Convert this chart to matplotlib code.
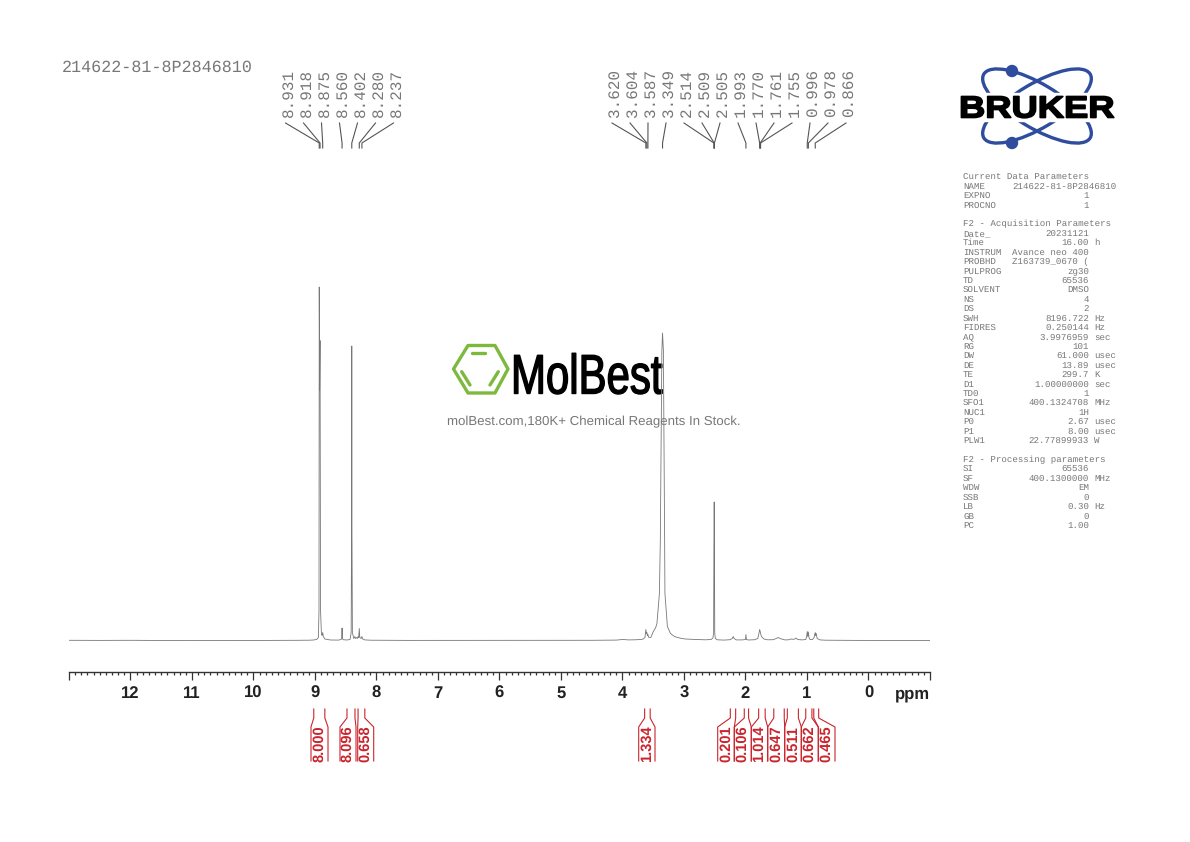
import matplotlib
matplotlib.use('Agg')
import matplotlib.pyplot as plt
from matplotlib.patches import Ellipse, Circle, Polygon, Rectangle
from matplotlib.patheffects import AbstractPathEffect
from matplotlib.transforms import Affine2D

plt.rcParams['font.family'] = ['Liberation Sans', 'DejaVu Sans']
plt.rcParams['text.hinting'] = 'none'

# spectrum: ppm / height above baseline
spec_ppm = [13.0, 12.5, 12.0, 11.5, 11.0, 10.5, 10.0, 9.6, 9.3, 9.1, 9.02, 8.97, 8.945, 8.935, 8.931, 8.925,
            8.918, 8.91, 8.895, 8.885, 8.875, 8.865, 8.84, 8.75, 8.62, 8.575, 8.565, 8.56, 8.555, 8.545, 8.48,
            8.43, 8.412, 8.405, 8.402, 8.399, 8.392, 8.37, 8.352, 8.342, 8.325, 8.31, 8.298, 8.29, 8.28,
            8.272, 8.25, 8.237, 8.225, 8.19, 8.1, 7.9, 7.5, 7.0, 6.5, 6.0, 5.5, 5.0, 4.5, 4.1, 4.0, 3.9, 3.8, 3.7,
            3.66, 3.635, 3.625, 3.62, 3.612, 3.604, 3.595, 3.587, 3.575, 3.54, 3.5, 3.46, 3.44, 3.40, 3.385,
            3.37, 3.36, 3.349, 3.335, 3.325, 3.315, 3.31, 3.29, 3.27, 3.22, 3.15, 3.05, 2.98, 2.8, 2.65, 2.56,
            2.53, 2.518, 2.514, 2.511, 2.509, 2.507, 2.505, 2.5, 2.49, 2.46, 2.35, 2.25, 2.215, 2.2, 2.185, 2.15,
            2.05, 2.0, 1.993, 1.985, 1.95, 1.85, 1.8, 1.775, 1.77, 1.761, 1.755, 1.74, 1.7, 1.64, 1.55, 1.5, 1.47,
            1.43, 1.36, 1.3, 1.26, 1.23, 1.2, 1.18, 1.15, 1.08, 1.02, 1.005, 0.996, 0.987, 0.978, 0.968, 0.95,
            0.91, 0.885, 0.875, 0.866, 0.858, 0.85, 0.835, 0.79, 0.7, 0.5, 0.2, 0.0, -0.3, -0.6, -1.0]
spec_height = [0.2, 0.1, 0.2, 0.0, 0.1, -0.1, 0.0, 0.1, 0.2, 0.3, 0.5, 1.2, 3, 30, 353.5, 250,
               300, 30, 6, 5, 8, 4, 1.5, 0.5, 0.4, 1, 3, 12.5, 3, 0.8, 0.5,
               1, 8, 120, 294.5, 110, 8, 2, 4, 2, 3, 2, 4, 3, 12,
               3, 2, 4, 1.5, 0.6, 0.3, 0.2, 0.1, 0.1, 0.0, 0.1, 0.1, 0.2, 0.2, 0.4, 1, 0.6, 0.7, 1,
               1.6, 3, 8, 11, 7, 8, 5, 6, 3.2, 3, 8.8, 13, 17, 47, 100,
               220, 290, 307.5, 290, 200, 100, 47, 30, 14, 7, 3.8, 2.2, 1.5, 1, 0.7, 1,
               2.5, 8, 90, 110, 138.5, 100, 85, 7, 2, 0.7, 0.4, 0.8, 2, 4, 2, 0.6,
               0.6, 1, 6, 1, 0.5, 0.8, 2, 9, 11, 9, 7, 4, 1.5, 0.7, 0.8, 2, 3,
               1.8, 0.6, 0.7, 1.5, 1.2, 1.4, 2.5, 1, 0.6, 1, 4, 9, 4, 8.5, 3, 1,
               1, 3, 6, 8, 5, 7, 2, 0.6, 0.3, 0.2, 0.1, 0.1, 0.0, 0.1, 0.0]

# x axis
major_ticks = [13, 12, 11, 10, 9, 8, 7, 6, 5, 4, 3, 2, 1, 0, -1]
major_labels = ['', '12', '11', '10', '9', '8', '7', '6', '5', '4', '3', '2', '1', '0', '']
minor_ticks = [v / 10 for v in range(-10, 131)]

# peak labels
peaks_left = [8.931, 8.918, 8.875, 8.560, 8.402, 8.280, 8.237]
peaks_right = [3.620, 3.604, 3.587, 3.349, 2.514, 2.509, 2.505, 1.993, 1.770, 1.761, 1.755, 0.996, 0.978, 0.866]

# integrals: label, left and right limit in ppm
int_labels = ['8.000', '8.096', '0.658', '1.334', '0.201', '0.106', '1.014', '0.647', '0.511', '0.662', '0.465']
int_from = [9.02, 8.48, 8.30, 3.64, 2.247, 2.02, 1.786, 1.54, 1.32, 1.02, 0.89]
int_to = [8.84, 8.35, 8.19, 3.55, 2.16, 1.95, 1.68, 1.37, 1.14, 0.92, 0.81]
int_foot_l = [311, 340, 357.7, 638.7, 717.7, 734.3, 751.3, 767.7, 784.7, 801.3, 818.3]
int_foot_r = [328, 356, 373.7, 655, 734.3, 751.3, 767.7, 784.7, 801.3, 818.3, 835]

# parameter block
param_names = ['Current Data Parameters', 'NAME', 'EXPNO', 'PROCNO', '',
               'F2 - Acquisition Parameters', 'Date_', 'Time', 'INSTRUM', 'PROBHD', 'PULPROG', 'TD', 'SOLVENT',
               'NS', 'DS', 'SWH', 'FIDRES', 'AQ', 'RG', 'DW', 'DE', 'TE', 'D1', 'TD0', 'SFO1', 'NUC1', 'P0', 'P1',
               'PLW1', '', 'F2 - Processing parameters', 'SI', 'SF', 'WDW', 'SSB', 'LB', 'GB', 'PC']
param_values = ['', '214622-81-8P2846810', '1', '1', '',
                '', '20231121', '16.00', 'Avance neo 400', 'Z163739_0670 (', 'zg30', '65536', 'DMSO',
                '4', '2', '8196.722', '0.250144', '3.9976959', '101', '61.000', '13.89', '299.7', '1.00000000', '1',
                '400.1324708', '1H', '2.67', '8.00', '22.77899933', '', '', '65536', '400.1300000', 'EM', '0', '0.30',
                '0', '1.00']
param_units = ['', '', '', '', '',
               '', '', 'h', '', '', '', '', '',
               '', '', 'Hz', 'Hz', 'sec', '', 'usec', 'usec', 'K', 'sec', '', 'MHz', '', 'usec', 'usec',
               'W', '', '', '', 'MHz', '', '', 'Hz', '', '']

grey = '#777777'
red = '#c9252d'
blue = '#2f4d9e'
green = '#7cb93c'


class Stretch(AbstractPathEffect):
    # squeeze or widen real text around its anchor, optional outline
    def __init__(self, sx, cx, lw=0):
        super().__init__()
        self.sx = sx
        self.cx = cx
        self.lw = lw

    def draw_path(self, renderer, gc, tpath, affine, rgbFace=None):
        tr = affine + Affine2D().translate(-self.cx, 0).scale(self.sx, 1).translate(self.cx, 0)
        gc0 = renderer.new_gc()
        gc0.copy_properties(gc)
        gc0.set_linewidth(self.lw)
        gc0.set_foreground(rgbFace)
        renderer.draw_path(gc0, tpath, tr, rgbFace)
        gc0.restore()


fig = plt.figure(figsize=(11.9, 8.42), dpi=100)

# overlay in picture pixels for labels and logos
ov = fig.add_axes([0, 0, 1, 1], zorder=0)
ov.set_xlim(0, 1190)
ov.set_ylim(842, 0)
ov.axis('off')

ax = fig.add_axes([69 / 1190, (842 - 672.3) / 842, (930 - 69) / 1190, (672.3 - 160) / 842], zorder=1)
ax.patch.set_visible(False)
ax.set_xlim(13, -1)
ax.set_ylim(-31.8, 480.5)
ax.plot(spec_ppm, spec_height, color='#777777', linewidth=0.6)

for side in ['left', 'right', 'top']:
    ax.spines[side].set_visible(False)
ax.spines['bottom'].set_color('#333333')
ax.spines['bottom'].set_linewidth(1.0)
ax.set_yticks([])
ax.set_xticks(major_ticks)
ax.set_xticklabels(major_labels, fontweight='bold', fontsize=12, color='#222222')
ax.set_xticks(minor_ticks, minor=True)
ax.xaxis.set_tick_params(which='major', length=5.8, width=0.9, color='#333333', pad=4)
ax.xaxis.set_tick_params(which='minor', length=2.2, width=0.9, color='#333333')


def ppm_px(p):
    return ax.transData.transform((p, 0))[0]


ov.text(930, 694, 'ppm', ha='right', va='center', fontweight='bold', fontsize=12, color='#222222')
ov.text(62, 67.5, '214622-81-8P2846810', family='Liberation Mono', fontsize=12.05, color=grey, ha='left', va='center')

# peak labels with leader lines
for values, start in [(peaks_left, 288.5), (peaks_right, 615)]:
    for i, p in enumerate(values):
        lx = start + i * 18.0
        ov.text(lx, 117, '%.3f' % p, rotation=90, ha='center', va='bottom',
                family='Liberation Mono', fontsize=11.5, color=grey)
        px = ppm_px(p)
        ov.plot([lx - 3, px, px], [123, 143, 148], color='#555555', linewidth=0.8)

# integrals below the axis
for lab, p0, p1, f0, f1 in zip(int_labels, int_from, int_to, int_foot_l, int_foot_r):
    ov.plot([ppm_px(p0), ppm_px(p0), f0, f0], [709, 718, 727, 761], color=red, linewidth=0.8)
    ov.plot([ppm_px(p1), ppm_px(p1), f1, f1], [709, 718, 727, 761], color=red, linewidth=0.8)
    ov.text((f0 + f1) / 2, 761.5, lab, rotation=90, ha='center', va='bottom', fontweight='bold',
            fontsize=10.5, color=red)

# MolBest mark
ov.add_patch(Polygon([(453.5, 369), (468, 345.5), (495, 345.5), (508, 369), (495, 393), (468, 393)], closed=True,
                     fill=False, edgecolor=green, linewidth=2.4, joinstyle='round'))
ov.plot([472, 485], [353, 353], color=green, linewidth=2.4, solid_capstyle='round')
ov.plot([461.7, 470], [371.7, 385], color=green, linewidth=2.4, solid_capstyle='round')
ov.plot([498.3, 490], [371.7, 385], color=green, linewidth=2.4, solid_capstyle='round')
cx = ov.transData.transform((511, 0))[0]
ov.text(511, 393.5, 'MolBest', ha='left', va='baseline', fontsize=40, color='black',
        path_effects=[Stretch(0.755, cx, lw=1.0)])
ov.text(594, 421.5, 'molBest.com,180K+ Chemical Reagents In Stock.', ha='center', va='center',
        fontsize=9.5, color=grey)

# Bruker mark
ov.add_patch(Ellipse((1037, 106), 124, 44, angle=31, fill=False, edgecolor=blue, linewidth=2.4))
ov.add_patch(Ellipse((1037, 106), 124, 44, angle=-31, fill=False, edgecolor=blue, linewidth=2.4))
ov.add_patch(Circle((1012, 71), 5.5, color=blue))
ov.add_patch(Circle((1012, 143), 5.5, color=blue))
ov.add_patch(Rectangle((955, 93), 164, 28, color='white', zorder=3))
cx = ov.transData.transform((959, 0))[0]
ov.text(959, 117.5, 'BRUKER', ha='left', va='baseline', fontsize=22, fontweight='bold', color='black', zorder=4,
        path_effects=[Stretch(1.19, cx, lw=1.2)])

# parameter text
for row, (name, val, unit) in enumerate(zip(param_names, param_values, param_units)):
    y = 177 + row * 9.42
    ov.text(963, y, name, family='Liberation Mono', fontsize=6.6, color=grey, ha='left', va='center')
    if val:
        vx = 1117 if name == 'NAME' else 1089
        ov.text(vx, y, val, family='Liberation Mono', fontsize=6.6, color=grey, ha='right', va='center')
    if unit:
        ov.text(1094, y, unit, family='Liberation Mono', fontsize=6.6, color=grey, ha='left', va='center')

plt.savefig('out.png', dpi=100)
